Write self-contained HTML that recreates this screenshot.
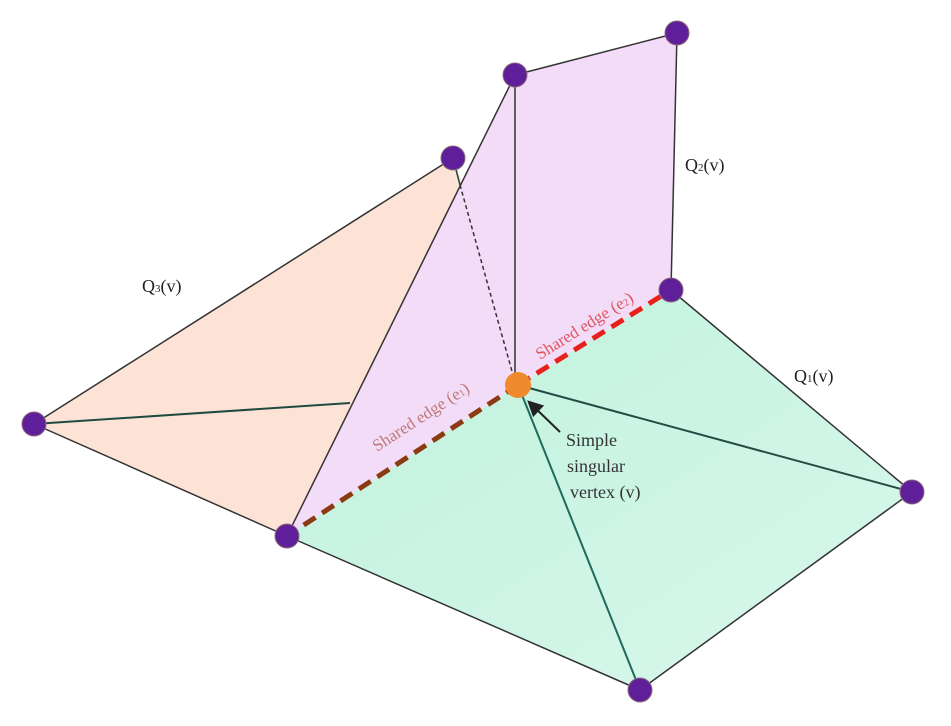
<!DOCTYPE html>
<html><head><style>body{margin:0;background:#fff}svg{display:block}</style></head><body>
<svg width="951" height="726" viewBox="0 0 951 726" xmlns="http://www.w3.org/2000/svg" font-family="Liberation Serif, serif">
<defs>
<linearGradient id="g" x1="0" y1="0" x2="1" y2="1"><stop offset="0" stop-color="#bff2dc"/><stop offset="1" stop-color="#d9f7ec"/></linearGradient>
<marker id="ah" markerWidth="8" markerHeight="8" refX="6" refY="4" orient="auto"><path d="M0,0 L8,4 L0,8z" fill="#222"/></marker>
</defs>
<polygon points="34,424 453,158 462,182 287,536" fill="#fde3d6"/>
<polygon points="287,536 518,385 671,290 912,492 640,690" fill="url(#g)"/>
<polygon points="515,75 677,33 671,290 518,385 287,536" fill="#f3dcf8"/>
<g stroke="#333" stroke-width="1.5" fill="none">
<line x1="34" y1="424" x2="453" y2="158"/>
<line x1="34" y1="424" x2="350" y2="403" stroke="#1f4a40" stroke-width="2"/>
<line x1="34" y1="424" x2="287" y2="536"/>
<line x1="453" y1="158" x2="460" y2="185" stroke="#1f4a40"/>
<line x1="460" y1="185" x2="515" y2="382" stroke-dasharray="4,3"/>
<line x1="515" y1="75" x2="287" y2="536"/>
<line x1="515" y1="75" x2="677" y2="33"/>
<line x1="677" y1="33" x2="671" y2="290"/>
<line x1="515" y1="75" x2="515" y2="380"/>
<line x1="518" y1="385" x2="640" y2="690" stroke="#1f6a5c" stroke-width="2"/>
<line x1="518" y1="385" x2="912" y2="492" stroke="#264a44" stroke-width="2"/>
<line x1="671" y1="290" x2="912" y2="492"/>
<line x1="912" y1="492" x2="640" y2="690"/>
<line x1="640" y1="690" x2="287" y2="536"/>
</g>
<line x1="518" y1="385" x2="287" y2="536" stroke="#8b3a12" stroke-width="5" stroke-dasharray="14,8"/>
<line x1="518" y1="385" x2="671" y2="290" stroke="#e8201c" stroke-width="5" stroke-dasharray="14,8"/>
<g fill="#5f1f9a" stroke="#8a6a7a" stroke-width="1">
<circle cx="515" cy="75" r="12"/><circle cx="677" cy="33" r="12"/><circle cx="453" cy="158" r="12"/>
<circle cx="671" cy="290" r="12"/><circle cx="34" cy="424" r="12"/><circle cx="287" cy="536" r="12"/>
<circle cx="912" cy="492" r="12"/><circle cx="640" cy="690" r="12"/>
</g>
<circle cx="518" cy="385" r="13" fill="#ef8a2e"/>
<line x1="560" y1="432" x2="530" y2="403" stroke="#222" stroke-width="2" marker-end="url(#ah)"/>
<g font-size="18" fill="#222">
<text x="685" y="171">Q<tspan font-size="11">2</tspan>(v)</text>
<text x="142" y="292">Q<tspan font-size="11">3</tspan>(v)</text>
<text x="794" y="382">Q<tspan font-size="11">1</tspan>(v)</text>
<text x="566" y="446" fill="#333">Simple</text>
<text x="567" y="472" fill="#333">singular</text>
<text x="570" y="498" fill="#333">vertex (v)</text>
</g>
<text font-size="17" fill="#e05560" transform="translate(540,360) rotate(-32)">Shared edge (e<tspan font-size="10">2</tspan>)</text>
<text font-size="17" fill="#c07878" transform="translate(377,452) rotate(-33)">Shared edge (e<tspan font-size="10">1</tspan>)</text>
</svg>
</body></html>
